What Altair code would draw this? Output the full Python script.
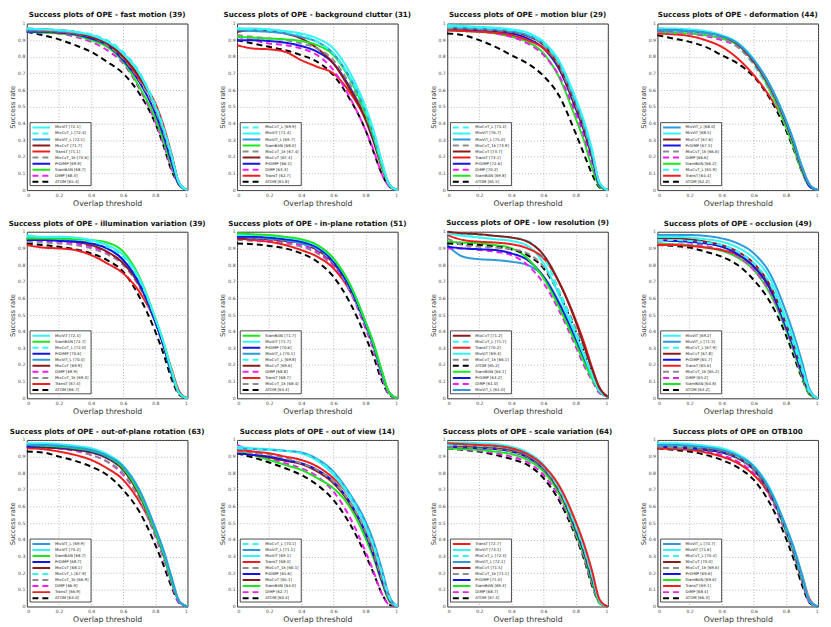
import altair as alt
import pandas as pd

# thresholds at which curves are read
X = [0, 0.1, 0.2, 0.3, 0.4, 0.5, 0.6, 0.7, 0.8, 0.85, 0.9, 0.95, 1.0]

TRACKERS = ["MixViT", "MixCvT_L", "MixViT_L", "MixCvT", "TransT", "MixCvT_1k",
            "PrDiMP", "SiamBAN", "DiMP", "ATOM"]
COLORS = ["#33F5F5", "#33F5F5", "#2B9BDB", "#8B1A1A", "#F01E1E", "#8C8C8C",
          "#1414E6", "#1EE61E", "#F01EF0", "#000000"]
DASHES = [[1, 0], [6, 4], [1, 0], [1, 0], [1, 0], [6, 4], [1, 0], [1, 0], [6, 4], [6, 4]]

TITLES = [
    "Success plots of OPE - fast motion (39)",
    "Success plots of OPE - background clutter (31)",
    "Success plots of OPE - motion blur (29)",
    "Success plots of OPE - deformation (44)",
    "Success plots of OPE - illumination variation (39)",
    "Success plots of OPE - in-plane rotation (51)",
    "Success plots of OPE - low resolution (9)",
    "Success plots of OPE - occlusion (49)",
    "Success plots of OPE - out-of-plane rotation (63)",
    "Success plots of OPE - out of view (14)",
    "Success plots of OPE - scale variation (64)",
    "Success plots of OPE on OTB100",
]

P1 = {
    "MixViT":    [0.97, 0.965, 0.96, 0.95, 0.93, 0.89, 0.82, 0.70, 0.50, 0.37, 0.21, 0.04, 0],
    "MixCvT_L":  [0.97, 0.965, 0.96, 0.95, 0.935, 0.90, 0.83, 0.71, 0.51, 0.38, 0.21, 0.04, 0],
    "MixViT_L":  [0.96, 0.96, 0.955, 0.945, 0.93, 0.89, 0.82, 0.70, 0.50, 0.37, 0.21, 0.04, 0],
    "MixCvT":    [0.97, 0.965, 0.96, 0.95, 0.92, 0.88, 0.80, 0.68, 0.50, 0.37, 0.21, 0.04, 0],
    "TransT":    [0.96, 0.955, 0.95, 0.94, 0.92, 0.88, 0.80, 0.67, 0.52, 0.39, 0.22, 0.04, 0],
    "MixCvT_1k": [0.96, 0.955, 0.95, 0.94, 0.92, 0.87, 0.79, 0.66, 0.48, 0.35, 0.19, 0.04, 0],
    "PrDiMP":    [0.95, 0.95, 0.945, 0.935, 0.91, 0.87, 0.78, 0.65, 0.46, 0.33, 0.17, 0.03, 0],
    "SiamBAN":   [0.95, 0.945, 0.94, 0.93, 0.90, 0.86, 0.77, 0.62, 0.43, 0.30, 0.15, 0.03, 0],
    "DiMP":      [0.95, 0.945, 0.94, 0.92, 0.89, 0.84, 0.76, 0.61, 0.41, 0.28, 0.13, 0.03, 0],
    "ATOM":      [0.95, 0.93, 0.905, 0.87, 0.83, 0.77, 0.70, 0.58, 0.40, 0.27, 0.12, 0.03, 0],
}
S1 = [72.1, 72.4, 72.1, 71.7, 71.1, 70.6, 69.9, 68.7, 68.3, 65.4]

P2 = {
    "MixCvT_L":  [0.97, 0.965, 0.96, 0.95, 0.93, 0.89, 0.82, 0.68, 0.48, 0.34, 0.17, 0.03, 0],
    "MixViT":    [0.97, 0.97, 0.965, 0.955, 0.94, 0.91, 0.85, 0.71, 0.50, 0.36, 0.18, 0.03, 0],
    "MixViT_L":  [0.96, 0.955, 0.95, 0.94, 0.92, 0.89, 0.82, 0.68, 0.48, 0.34, 0.17, 0.03, 0],
    "SiamBAN":   [0.92, 0.915, 0.91, 0.905, 0.895, 0.87, 0.81, 0.67, 0.46, 0.32, 0.15, 0.03, 0],
    "MixCvT_1k": [0.93, 0.92, 0.91, 0.90, 0.88, 0.85, 0.78, 0.64, 0.45, 0.32, 0.16, 0.03, 0],
    "MixCvT":    [0.95, 0.96, 0.955, 0.94, 0.91, 0.85, 0.76, 0.61, 0.43, 0.31, 0.16, 0.03, 0],
    "PrDiMP":    [0.90, 0.90, 0.895, 0.885, 0.865, 0.83, 0.76, 0.62, 0.43, 0.30, 0.15, 0.03, 0],
    "DiMP":      [0.92, 0.90, 0.88, 0.87, 0.85, 0.81, 0.72, 0.56, 0.36, 0.24, 0.10, 0.02, 0],
    "TransT":    [0.87, 0.85, 0.845, 0.83, 0.78, 0.74, 0.70, 0.59, 0.42, 0.29, 0.14, 0.03, 0],
    "ATOM":      [0.90, 0.88, 0.86, 0.84, 0.81, 0.77, 0.69, 0.55, 0.36, 0.23, 0.10, 0.02, 0],
}
S2 = [69.9, 71.4, 69.7, 68.0, 67.4, 67.4, 66.1, 63.3, 62.7, 61.8]

P3 = {
    "MixCvT_L":  [0.98, 0.98, 0.975, 0.97, 0.96, 0.94, 0.88, 0.76, 0.54, 0.41, 0.24, 0.04, 0],
    "MixViT":    [0.99, 0.985, 0.98, 0.975, 0.965, 0.945, 0.89, 0.77, 0.55, 0.42, 0.25, 0.04, 0],
    "MixViT_L":  [0.98, 0.975, 0.97, 0.965, 0.955, 0.93, 0.88, 0.76, 0.53, 0.40, 0.23, 0.04, 0],
    "MixCvT_1k": [0.97, 0.97, 0.965, 0.96, 0.95, 0.93, 0.87, 0.74, 0.51, 0.38, 0.22, 0.04, 0],
    "MixCvT":    [0.97, 0.97, 0.965, 0.96, 0.95, 0.925, 0.87, 0.73, 0.50, 0.37, 0.21, 0.04, 0],
    "TransT":    [0.96, 0.955, 0.95, 0.945, 0.93, 0.90, 0.85, 0.74, 0.53, 0.40, 0.23, 0.04, 0],
    "PrDiMP":    [0.96, 0.96, 0.955, 0.95, 0.94, 0.91, 0.85, 0.72, 0.49, 0.36, 0.20, 0.03, 0],
    "DiMP":      [0.97, 0.965, 0.955, 0.94, 0.92, 0.88, 0.81, 0.68, 0.46, 0.33, 0.17, 0.03, 0],
    "SiamBAN":   [0.96, 0.955, 0.95, 0.94, 0.92, 0.89, 0.82, 0.67, 0.43, 0.30, 0.14, 0.02, 0],
    "ATOM":      [0.94, 0.93, 0.90, 0.86, 0.81, 0.76, 0.685, 0.56, 0.34, 0.22, 0.10, 0.015, 0],
}
S3 = [75.4, 76.7, 75.0, 73.9, 73.7, 73.1, 72.6, 70.2, 69.8, 65.5]

P4 = {
    "MixViT_L":  [0.96, 0.96, 0.955, 0.945, 0.925, 0.88, 0.78, 0.63, 0.42, 0.29, 0.14, 0.03, 0],
    "MixViT":    [0.97, 0.97, 0.965, 0.955, 0.93, 0.885, 0.785, 0.63, 0.42, 0.29, 0.14, 0.03, 0],
    "MixCvT":    [0.97, 0.965, 0.96, 0.95, 0.925, 0.875, 0.77, 0.62, 0.41, 0.28, 0.13, 0.03, 0],
    "PrDiMP":    [0.96, 0.96, 0.955, 0.945, 0.925, 0.88, 0.78, 0.63, 0.41, 0.28, 0.13, 0.02, 0],
    "MixCvT_1k": [0.95, 0.945, 0.94, 0.93, 0.91, 0.86, 0.76, 0.61, 0.40, 0.27, 0.13, 0.02, 0],
    "DiMP":      [0.95, 0.945, 0.94, 0.925, 0.90, 0.86, 0.76, 0.61, 0.40, 0.27, 0.12, 0.02, 0],
    "SiamBAN":   [0.95, 0.945, 0.94, 0.93, 0.91, 0.87, 0.77, 0.60, 0.38, 0.25, 0.11, 0.02, 0],
    "MixCvT_L":  [0.96, 0.955, 0.95, 0.935, 0.91, 0.86, 0.75, 0.59, 0.38, 0.26, 0.12, 0.02, 0],
    "TransT":    [0.94, 0.935, 0.925, 0.90, 0.86, 0.79, 0.69, 0.56, 0.39, 0.27, 0.14, 0.03, 0],
    "ATOM":      [0.93, 0.91, 0.89, 0.86, 0.81, 0.76, 0.68, 0.55, 0.36, 0.24, 0.11, 0.02, 0],
}
S4 = [68.0, 68.5, 67.6, 67.5, 66.6, 66.6, 66.2, 65.9, 64.4, 62.2]

P5 = {
    "MixViT":    [0.98, 0.97, 0.97, 0.965, 0.95, 0.92, 0.86, 0.72, 0.48, 0.34, 0.17, 0.03, 0],
    "SiamBAN":   [0.96, 0.96, 0.96, 0.955, 0.95, 0.935, 0.88, 0.73, 0.48, 0.34, 0.17, 0.03, 0],
    "MixCvT_L":  [0.97, 0.965, 0.96, 0.955, 0.94, 0.91, 0.85, 0.71, 0.48, 0.34, 0.17, 0.03, 0],
    "PrDiMP":    [0.95, 0.95, 0.945, 0.94, 0.93, 0.90, 0.83, 0.69, 0.46, 0.32, 0.16, 0.03, 0],
    "MixViT_L":  [0.96, 0.955, 0.95, 0.945, 0.93, 0.90, 0.83, 0.69, 0.46, 0.32, 0.15, 0.03, 0],
    "MixCvT":    [0.96, 0.955, 0.95, 0.94, 0.92, 0.88, 0.81, 0.68, 0.46, 0.32, 0.16, 0.03, 0],
    "DiMP":      [0.95, 0.945, 0.94, 0.93, 0.91, 0.875, 0.81, 0.68, 0.46, 0.32, 0.16, 0.03, 0],
    "MixCvT_1k": [0.94, 0.935, 0.93, 0.92, 0.90, 0.865, 0.80, 0.67, 0.45, 0.31, 0.15, 0.03, 0],
    "TransT":    [0.92, 0.905, 0.90, 0.89, 0.86, 0.81, 0.75, 0.64, 0.46, 0.33, 0.18, 0.04, 0],
    "ATOM":      [0.93, 0.92, 0.91, 0.895, 0.87, 0.83, 0.76, 0.61, 0.40, 0.27, 0.12, 0.02, 0],
}
S5 = [72.4, 72.7, 72.0, 70.6, 70.4, 69.9, 69.9, 69.0, 67.4, 66.7]

P6 = {
    "SiamBAN":   [0.99, 0.985, 0.98, 0.97, 0.955, 0.92, 0.84, 0.69, 0.46, 0.33, 0.17, 0.03, 0],
    "MixViT":    [0.98, 0.98, 0.975, 0.965, 0.95, 0.915, 0.835, 0.69, 0.46, 0.33, 0.17, 0.03, 0],
    "PrDiMP":    [0.97, 0.97, 0.965, 0.955, 0.94, 0.905, 0.82, 0.67, 0.45, 0.32, 0.16, 0.03, 0],
    "MixViT_L":  [0.97, 0.965, 0.96, 0.95, 0.93, 0.90, 0.82, 0.67, 0.45, 0.32, 0.16, 0.03, 0],
    "MixCvT_L":  [0.97, 0.965, 0.96, 0.95, 0.93, 0.895, 0.815, 0.66, 0.44, 0.31, 0.15, 0.03, 0],
    "MixCvT":    [0.96, 0.96, 0.955, 0.945, 0.93, 0.89, 0.81, 0.66, 0.44, 0.31, 0.15, 0.03, 0],
    "DiMP":      [0.96, 0.955, 0.95, 0.94, 0.92, 0.88, 0.80, 0.65, 0.42, 0.29, 0.13, 0.02, 0],
    "TransT":    [0.96, 0.95, 0.94, 0.92, 0.89, 0.85, 0.78, 0.65, 0.45, 0.32, 0.16, 0.03, 0],
    "MixCvT_1k": [0.95, 0.945, 0.94, 0.93, 0.91, 0.87, 0.79, 0.65, 0.43, 0.30, 0.14, 0.03, 0],
    "ATOM":      [0.93, 0.925, 0.915, 0.90, 0.87, 0.82, 0.73, 0.58, 0.37, 0.25, 0.11, 0.02, 0],
}
S6 = [71.7, 71.7, 70.6, 70.1, 69.8, 69.6, 68.8, 68.7, 68.4, 64.3]

P7 = {
    "MixCvT":    [1.0, 0.99, 0.985, 0.975, 0.965, 0.94, 0.86, 0.69, 0.46, 0.32, 0.18, 0.06, 0.01],
    "MixCvT_L":  [0.99, 0.985, 0.98, 0.975, 0.965, 0.945, 0.85, 0.64, 0.40, 0.28, 0.15, 0.05, 0.01],
    "TransT":    [0.98, 0.95, 0.94, 0.935, 0.925, 0.90, 0.84, 0.69, 0.47, 0.34, 0.19, 0.06, 0.01],
    "MixViT":    [0.99, 0.975, 0.965, 0.955, 0.945, 0.915, 0.81, 0.61, 0.38, 0.26, 0.14, 0.04, 0.01],
    "MixCvT_1k": [0.96, 0.92, 0.91, 0.905, 0.895, 0.87, 0.79, 0.63, 0.42, 0.29, 0.16, 0.05, 0.01],
    "ATOM":      [0.93, 0.925, 0.92, 0.91, 0.895, 0.86, 0.78, 0.62, 0.40, 0.28, 0.15, 0.04, 0.01],
    "SiamBAN":   [0.94, 0.935, 0.93, 0.92, 0.90, 0.84, 0.72, 0.54, 0.33, 0.22, 0.12, 0.04, 0.01],
    "PrDiMP":    [0.91, 0.90, 0.895, 0.89, 0.87, 0.83, 0.73, 0.56, 0.35, 0.24, 0.13, 0.04, 0.01],
    "DiMP":      [0.90, 0.90, 0.89, 0.88, 0.86, 0.80, 0.69, 0.52, 0.31, 0.20, 0.11, 0.03, 0.01],
    "MixViT_L":  [0.92, 0.85, 0.835, 0.83, 0.82, 0.80, 0.73, 0.57, 0.36, 0.24, 0.13, 0.04, 0.01],
}
S7 = [71.2, 71.7, 70.2, 69.4, 66.1, 65.2, 64.1, 63.2, 61.0, 61.0]

P8 = {
    "MixViT":    [0.97, 0.97, 0.965, 0.955, 0.94, 0.905, 0.84, 0.72, 0.48, 0.35, 0.19, 0.04, 0],
    "MixViT_L":  [0.98, 0.98, 0.98, 0.975, 0.96, 0.93, 0.87, 0.75, 0.52, 0.38, 0.22, 0.05, 0],
    "MixCvT_L":  [0.95, 0.95, 0.945, 0.935, 0.92, 0.88, 0.81, 0.69, 0.45, 0.32, 0.17, 0.03, 0],
    "MixCvT":    [0.96, 0.96, 0.955, 0.94, 0.92, 0.88, 0.81, 0.68, 0.45, 0.32, 0.17, 0.03, 0],
    "PrDiMP":    [0.95, 0.945, 0.94, 0.93, 0.91, 0.865, 0.79, 0.66, 0.43, 0.30, 0.15, 0.03, 0],
    "TransT":    [0.92, 0.92, 0.915, 0.905, 0.89, 0.86, 0.79, 0.66, 0.44, 0.31, 0.16, 0.03, 0],
    "MixCvT_1k": [0.93, 0.925, 0.92, 0.91, 0.89, 0.85, 0.78, 0.65, 0.43, 0.30, 0.15, 0.03, 0],
    "DiMP":      [0.95, 0.945, 0.935, 0.915, 0.89, 0.85, 0.77, 0.64, 0.42, 0.29, 0.14, 0.03, 0],
    "SiamBAN":   [0.93, 0.925, 0.92, 0.905, 0.885, 0.845, 0.77, 0.63, 0.41, 0.28, 0.13, 0.02, 0],
    "ATOM":      [0.92, 0.915, 0.905, 0.88, 0.85, 0.80, 0.71, 0.58, 0.38, 0.25, 0.12, 0.02, 0],
}
S8 = [69.2, 71.5, 67.9, 67.8, 65.7, 65.6, 65.2, 65.2, 64.8, 63.2]

P9 = {
    "MixViT_L":  [0.97, 0.97, 0.965, 0.955, 0.94, 0.905, 0.84, 0.70, 0.47, 0.34, 0.18, 0.03, 0],
    "MixViT":    [0.98, 0.98, 0.975, 0.965, 0.95, 0.915, 0.845, 0.70, 0.47, 0.34, 0.18, 0.03, 0],
    "SiamBAN":   [0.97, 0.965, 0.96, 0.95, 0.935, 0.90, 0.83, 0.68, 0.45, 0.32, 0.16, 0.03, 0],
    "PrDiMP":    [0.96, 0.96, 0.955, 0.945, 0.93, 0.895, 0.83, 0.68, 0.45, 0.32, 0.16, 0.03, 0],
    "MixCvT":    [0.96, 0.955, 0.95, 0.94, 0.925, 0.89, 0.82, 0.67, 0.45, 0.32, 0.16, 0.03, 0],
    "MixCvT_L":  [0.97, 0.965, 0.96, 0.95, 0.93, 0.89, 0.815, 0.67, 0.44, 0.31, 0.15, 0.03, 0],
    "MixCvT_1k": [0.96, 0.955, 0.95, 0.94, 0.91, 0.87, 0.80, 0.65, 0.43, 0.30, 0.15, 0.03, 0],
    "DiMP":      [0.96, 0.955, 0.95, 0.935, 0.91, 0.87, 0.79, 0.65, 0.42, 0.29, 0.14, 0.02, 0],
    "TransT":    [0.95, 0.945, 0.93, 0.91, 0.88, 0.83, 0.76, 0.63, 0.44, 0.31, 0.16, 0.03, 0],
    "ATOM":      [0.93, 0.925, 0.90, 0.875, 0.84, 0.79, 0.70, 0.57, 0.37, 0.25, 0.12, 0.02, 0],
}
S9 = [69.9, 70.2, 68.7, 68.7, 68.1, 67.9, 66.9, 66.9, 66.9, 63.0]

P10 = {
    "MixCvT_L":  [0.95, 0.945, 0.94, 0.935, 0.92, 0.88, 0.80, 0.67, 0.49, 0.37, 0.21, 0.05, 0],
    "MixViT_L":  [0.95, 0.945, 0.94, 0.935, 0.925, 0.885, 0.81, 0.68, 0.51, 0.39, 0.23, 0.06, 0],
    "MixViT":    [0.96, 0.95, 0.945, 0.935, 0.92, 0.875, 0.79, 0.66, 0.48, 0.36, 0.20, 0.05, 0],
    "TransT":    [0.94, 0.93, 0.92, 0.90, 0.88, 0.84, 0.77, 0.66, 0.48, 0.35, 0.19, 0.05, 0],
    "MixCvT_1k": [0.93, 0.92, 0.91, 0.89, 0.86, 0.82, 0.75, 0.63, 0.45, 0.32, 0.17, 0.04, 0],
    "PrDiMP":    [0.92, 0.91, 0.90, 0.88, 0.86, 0.82, 0.75, 0.63, 0.44, 0.31, 0.16, 0.04, 0],
    "MixCvT":    [0.92, 0.91, 0.895, 0.875, 0.855, 0.81, 0.74, 0.62, 0.44, 0.31, 0.16, 0.04, 0],
    "SiamBAN":   [0.93, 0.91, 0.88, 0.85, 0.82, 0.77, 0.71, 0.60, 0.41, 0.29, 0.15, 0.03, 0],
    "DiMP":      [0.97, 0.93, 0.89, 0.86, 0.83, 0.78, 0.69, 0.54, 0.33, 0.21, 0.08, 0.01, 0],
    "ATOM":      [0.92, 0.895, 0.865, 0.83, 0.79, 0.73, 0.64, 0.50, 0.31, 0.20, 0.08, 0.01, 0],
}
S10 = [70.1, 71.1, 69.1, 68.4, 66.1, 65.6, 65.1, 64.0, 62.7, 60.4]

P11 = {
    "TransT":    [0.98, 0.975, 0.97, 0.965, 0.95, 0.915, 0.845, 0.72, 0.51, 0.38, 0.22, 0.04, 0],
    "MixViT":    [0.985, 0.985, 0.98, 0.975, 0.96, 0.925, 0.85, 0.71, 0.49, 0.36, 0.20, 0.03, 0],
    "MixCvT_L":  [0.97, 0.97, 0.965, 0.96, 0.95, 0.915, 0.84, 0.70, 0.48, 0.35, 0.19, 0.03, 0],
    "MixViT_L":  [0.97, 0.97, 0.965, 0.96, 0.945, 0.91, 0.835, 0.70, 0.48, 0.35, 0.19, 0.03, 0],
    "MixCvT":    [0.97, 0.965, 0.96, 0.955, 0.94, 0.905, 0.83, 0.69, 0.47, 0.34, 0.18, 0.03, 0],
    "MixCvT_1k": [0.96, 0.955, 0.95, 0.945, 0.93, 0.90, 0.825, 0.69, 0.47, 0.34, 0.18, 0.03, 0],
    "PrDiMP":    [0.96, 0.955, 0.95, 0.945, 0.93, 0.895, 0.825, 0.69, 0.46, 0.33, 0.17, 0.03, 0],
    "SiamBAN":   [0.95, 0.945, 0.94, 0.93, 0.915, 0.88, 0.81, 0.67, 0.44, 0.31, 0.15, 0.02, 0],
    "DiMP":      [0.95, 0.945, 0.935, 0.92, 0.90, 0.865, 0.79, 0.65, 0.43, 0.30, 0.14, 0.02, 0],
    "ATOM":      [0.95, 0.94, 0.93, 0.91, 0.885, 0.85, 0.77, 0.63, 0.42, 0.29, 0.13, 0.02, 0],
}
S11 = [72.7, 73.1, 72.3, 72.1, 71.5, 71.1, 71.0, 69.3, 68.7, 67.4]

P12 = {
    "MixViT_L":  [0.97, 0.97, 0.965, 0.955, 0.94, 0.905, 0.84, 0.70, 0.48, 0.35, 0.19, 0.03, 0],
    "MixViT":    [0.98, 0.98, 0.975, 0.965, 0.95, 0.915, 0.845, 0.71, 0.48, 0.35, 0.19, 0.03, 0],
    "MixCvT_L":  [0.97, 0.965, 0.96, 0.955, 0.94, 0.90, 0.835, 0.70, 0.47, 0.34, 0.18, 0.03, 0],
    "MixCvT":    [0.97, 0.965, 0.96, 0.95, 0.935, 0.895, 0.83, 0.69, 0.47, 0.34, 0.18, 0.03, 0],
    "MixCvT_1k": [0.96, 0.955, 0.95, 0.945, 0.93, 0.89, 0.82, 0.68, 0.46, 0.33, 0.17, 0.03, 0],
    "PrDiMP":    [0.96, 0.955, 0.95, 0.94, 0.925, 0.89, 0.82, 0.68, 0.46, 0.33, 0.17, 0.03, 0],
    "SiamBAN":   [0.96, 0.955, 0.95, 0.94, 0.925, 0.89, 0.82, 0.68, 0.45, 0.32, 0.16, 0.03, 0],
    "TransT":    [0.95, 0.945, 0.94, 0.925, 0.90, 0.86, 0.79, 0.67, 0.47, 0.34, 0.19, 0.04, 0],
    "DiMP":      [0.96, 0.955, 0.945, 0.93, 0.91, 0.87, 0.80, 0.66, 0.44, 0.31, 0.15, 0.02, 0],
    "ATOM":      [0.95, 0.94, 0.93, 0.91, 0.88, 0.835, 0.76, 0.62, 0.41, 0.28, 0.13, 0.02, 0],
}
S12 = [70.7, 71.6, 70.4, 70.0, 69.6, 69.6, 69.6, 69.1, 68.4, 66.3]

PANELS = [(P1, S1), (P2, S2), (P3, S3), (P4, S4), (P5, S5), (P6, S6),
          (P7, S7), (P8, S8), (P9, S9), (P10, S10), (P11, S11), (P12, S12)]

FONT = "DejaVu Sans"
W, H = 162, 168

color_scale = alt.Scale(domain=TRACKERS, range=COLORS)
dash_scale = alt.Scale(domain=TRACKERS, range=DASHES)
xs = alt.Scale(domain=[0, 1], nice=False, zero=True)
ys = alt.Scale(domain=[0, 1], nice=False, zero=True)
AX_X = alt.Axis(values=[0, 0.2, 0.4, 0.6, 0.8, 1.0], format="~g", title="Overlap threshold")
AX_Y = alt.Axis(values=[i / 10 for i in range(11)], format="~g", title="Success rate")


def panel(idx):
    curves, scores = PANELS[idx]
    names = list(curves.keys())
    rows = []
    # draw last legend entry first so the top-ranked sits on top
    for name in reversed(names):
        for xv, yv in zip(X, curves[name]):
            rows.append({"tracker": name, "x": xv, "y": yv})
    df = pd.DataFrame(rows)

    leg = pd.DataFrame({
        "tracker": names,
        "label": [f"{n} [{s:.1f}]" for n, s in zip(names, scores)],
        "y": [0.376 - 0.0362 * i for i in range(len(names))],
    })
    leg["x"] = 0.035
    leg["x2"] = 0.145
    leg["tx"] = 0.175
    maxlen = max(len(t) for t in leg["label"])
    box = pd.DataFrame({"x": [0.02], "x2": [0.175 + 0.0128 * maxlen + 0.02],
                        "y": [0.027], "y2": [0.405]})

    lines = alt.Chart(df).mark_line(strokeWidth=2, interpolate="monotone").encode(
        x=alt.X("x:Q", scale=xs, axis=AX_X),
        y=alt.Y("y:Q", scale=ys, axis=AX_Y),
        color=alt.Color("tracker:N", scale=color_scale, legend=None),
        strokeDash=alt.StrokeDash("tracker:N", scale=dash_scale, legend=None),
    )
    rect = alt.Chart(box).mark_rect(fill="white", stroke="#222", strokeWidth=0.8).encode(
        x=alt.X("x:Q", scale=xs, axis=AX_X), x2="x2:Q",
        y=alt.Y("y:Q", scale=ys, axis=AX_Y), y2="y2:Q",
    )
    samples = alt.Chart(leg).mark_rule(strokeWidth=2).encode(
        x=alt.X("x:Q", scale=xs, axis=AX_X), x2="x2:Q",
        y=alt.Y("y:Q", scale=ys, axis=AX_Y),
        color=alt.Color("tracker:N", scale=color_scale, legend=None),
        strokeDash=alt.StrokeDash("tracker:N", scale=dash_scale, legend=None),
    )
    texts = alt.Chart(leg).mark_text(align="left", baseline="middle", fontSize=3.9,
                                     font=FONT, color="#222").encode(
        x=alt.X("tx:Q", scale=xs, axis=AX_X),
        y=alt.Y("y:Q", scale=ys, axis=AX_Y),
        text="label:N",
    )
    return alt.layer(lines, rect, samples, texts).properties(
        width=W, height=H,
        title=alt.TitleParams(TITLES[idx], fontSize=7.2, fontWeight="bold", font=FONT,
                              color="#111", offset=2, anchor="middle"),
    )


chart = alt.concat(*[panel(i) for i in range(12)], columns=4,
                   spacing={"row": 42, "column": 50}, bounds="flush").properties(
    padding={"left": 0, "top": 0, "right": 0, "bottom": 0},
).configure_view(stroke="#333", strokeWidth=1).configure_axis(
    grid=True, gridDash=[1, 2], gridColor="#888", gridWidth=0.6,
    ticks=False, domain=False,
    labelFont=FONT, labelFontSize=4.6, labelColor="#444", labelPadding=2,
    titleFont=FONT, titleFontWeight="normal", titleColor="#333", titlePadding=2,
).configure_axisX(titleFontSize=7.8, titlePadding=3).configure_axisY(titleFontSize=6.8)

chart.save("out.html", embed_options={"renderer": "svg", "actions": False})
